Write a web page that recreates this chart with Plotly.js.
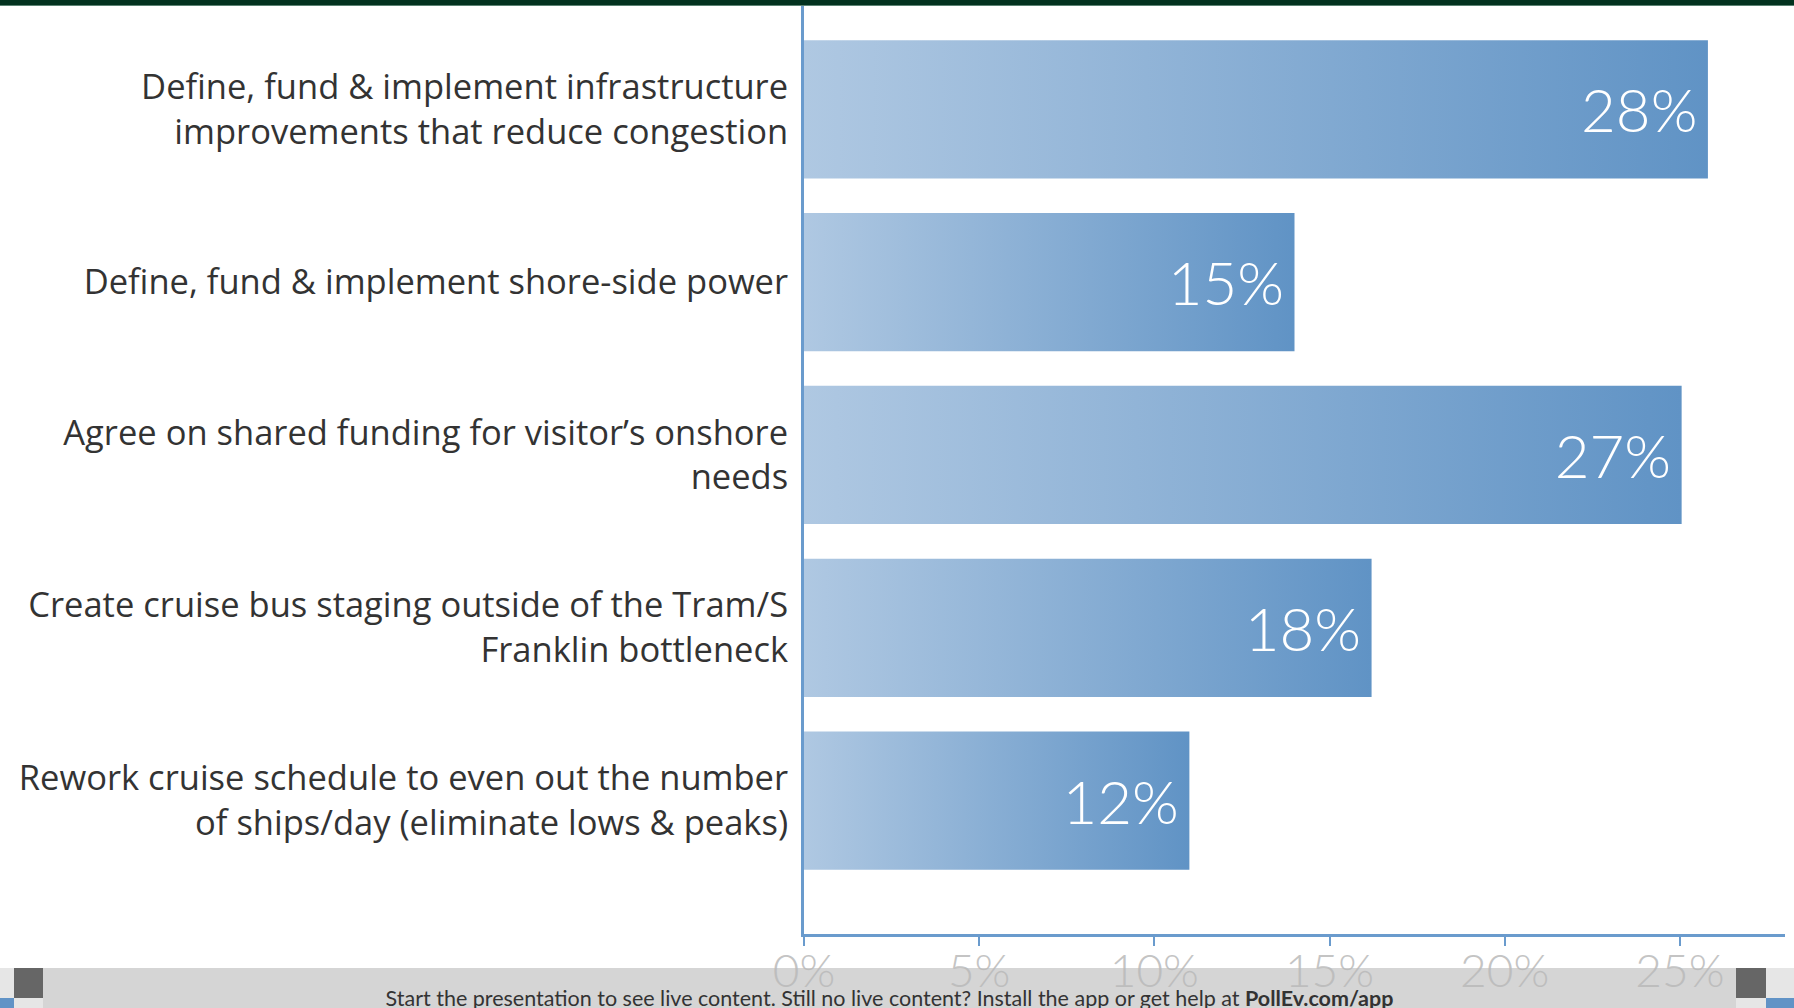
<!DOCTYPE html>
<html>
<head>
<meta charset="utf-8">
<script src="https://cdn.plot.ly/plotly-3.0.1.min.js"></script>
<style>
html,body{margin:0;padding:0;background:#fff;overflow:hidden}
#wrap{position:relative;width:1794px;height:1008px;overflow:hidden}
#chart{position:absolute;left:0;top:0;width:1794px;height:1008px}
#topband{position:absolute;left:0;top:0;width:1794px;height:5px;background:#02321f;border-bottom:1px solid #5b8373;z-index:5}
#footer{position:absolute;left:0;top:968px;width:1794px;height:40px;background:rgba(185,185,185,0.6);z-index:5;overflow:hidden}
#footer .txt{position:absolute;left:43px;width:1693px;top:14px;text-align:center;font-family:Lato,"Noto Sans",sans-serif;font-size:21.5px;line-height:32px;color:#333;white-space:nowrap}
#footer .txt b{font-weight:700}
.sq{position:absolute;z-index:6}
</style>
</head>
<body>
<div id="wrap">
  <div id="chart"></div>
  <div id="topband"></div>
  <div id="footer">
    <div class="sq" style="left:0;top:0;width:14px;height:30px;background:#e6e6e6"></div>
    <div class="sq" style="left:0;top:30px;width:14px;height:10px;background:#6193c6"></div>
    <div class="sq" style="left:14px;top:0;width:29px;height:30px;background:#666"></div>
    <div class="sq" style="left:14px;top:30px;width:29px;height:10px;background:#e6e6e6"></div>
    <div class="sq" style="left:1736px;top:0;width:30px;height:30px;background:#666"></div>
    <div class="sq" style="left:1736px;top:30px;width:30px;height:10px;background:#e6e6e6"></div>
    <div class="sq" style="left:1766px;top:0;width:28px;height:30px;background:#e6e6e6"></div>
    <div class="sq" style="left:1766px;top:30px;width:28px;height:10px;background:#6193c6"></div>
    <div class="txt">Start the presentation to see live content. Still no live content? Install the app or get help at <b>PollEv.com/app</b></div>
  </div>
</div>
<script>
// ---- data ----
const categories = [
  "Define, fund & implement infrastructure<br>improvements that reduce congestion",
  "Define, fund & implement shore-side power",
  "Agree on shared funding for visitor’s onshore<br>needs",
  "Create cruise bus staging outside of the Tram/S<br>Franklin bottleneck",
  "Rework cruise schedule to even out the number<br>of ships/day (eliminate lows & peaks)"
];
// bar lengths as read against the x axis
const barValues = [25.8, 14.0, 25.05, 16.2, 11.0];
// labels printed inside the bars
const barLabels = ["28%", "15%", "27%", "18%", "12%"];
const tickValues = [0, 5, 10, 15, 20, 25];
const tickLabels = ["0%", "5%", "10%", "15%", "20%", "25%"];

const axisBlue = "#6a9bcd";

const trace = {
  type: "bar",
  orientation: "h",
  y: categories,
  x: barValues,
  text: barLabels.map(t => t + "\u2009"),
  textposition: "inside",
  insidetextanchor: "end",
  textangle: 0,
  constraintext: "none",
  textfont: {family: "Lato, 'Noto Sans', sans-serif", size: 60, color: "#ffffff", weight: 300},
  marker: {color: "#88add4", line: {width: 0}},
  hoverinfo: "none"
};

const layout = {
  width: 1794,
  height: 1008,
  margin: {l: 804, r: 9, t: 6, b: 74, pad: 0},
  paper_bgcolor: "#ffffff",
  plot_bgcolor: "#ffffff",
  showlegend: false,
  bargap: 0.2,
  font: {family: "Lato, 'Noto Sans', sans-serif"},
  xaxis: {
    range: [0, 28],
    tickvals: tickValues,
    ticktext: tickLabels,
    ticks: "outside",
    ticklen: 9,
    tickwidth: 2,
    tickcolor: axisBlue,
    showline: true,
    linecolor: axisBlue,
    linewidth: 3,
    showgrid: false,
    zeroline: false,
    ticklabelstandoff: -14,
    tickfont: {size: 46, color: "#c4c4c4", family: "Lato, 'Noto Sans', sans-serif", weight: 300},
    fixedrange: true
  },
  yaxis: {
    type: "category",
    range: [4.772, -0.598],
    autorange: false,
    showline: true,
    linecolor: axisBlue,
    linewidth: 3,
    ticks: "",
    showgrid: false,
    zeroline: false,
    ticklabelstandoff: 6,
    tickfont: {size: 34.5, color: "#333333", family: "'Open Sans', 'Noto Sans', sans-serif"},
    fixedrange: true
  }
};

function applyGradient(gd) {
  const svg = gd.querySelector("svg.main-svg");
  if (!svg) return;
  let defs = svg.querySelector("defs");
  if (!defs) { defs = document.createElementNS("http://www.w3.org/2000/svg", "defs"); svg.insertBefore(defs, svg.firstChild); }
  if (!svg.querySelector("#barGrad")) {
    const g = document.createElementNS("http://www.w3.org/2000/svg", "linearGradient");
    g.setAttribute("id", "barGrad");
    g.setAttribute("x1", "0"); g.setAttribute("y1", "0");
    g.setAttribute("x2", "1"); g.setAttribute("y2", "0");
    [["0", "#afc8e2"], ["1", "#6093c5"]].forEach(([o, c]) => {
      const s = document.createElementNS("http://www.w3.org/2000/svg", "stop");
      s.setAttribute("offset", o); s.setAttribute("stop-color", c);
      g.appendChild(s);
    });
    defs.appendChild(g);
  }
  gd.querySelectorAll(".barlayer .point path").forEach(p => { p.style.fill = "url(#barGrad)"; });
}

const gd = document.getElementById("chart");
Plotly.newPlot(gd, [trace], layout, {displayModeBar: false, staticPlot: true}).then(() => {
  applyGradient(gd);
  gd.on("plotly_afterplot", () => applyGradient(gd));
});
</script>
</body>
</html>
